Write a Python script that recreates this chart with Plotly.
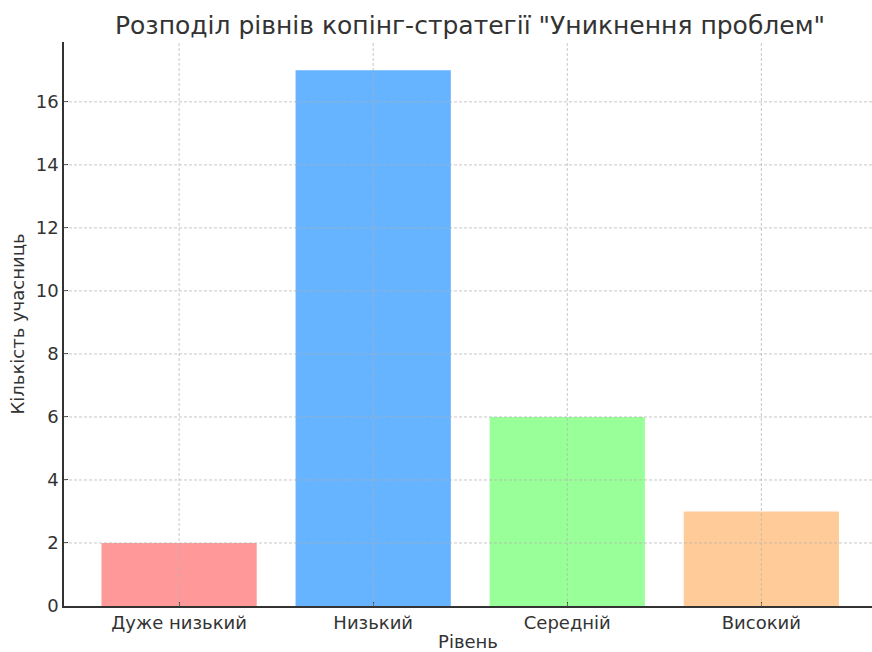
import plotly.graph_objects as go

categories = ["Дуже низький", "Низький", "Середній", "Високий"]
counts = [2, 17, 6, 3]
colors = ["#ff9999", "#66b3ff", "#99ff99", "#ffcc99"]
y_ticks = [0, 2, 4, 6, 8, 10, 12, 14, 16]

fig = go.Figure(go.Bar(x=list(range(len(categories))), y=counts, marker_color=colors,
                       marker_line_width=0, width=0.8))

grid_style = dict(color="rgba(176,176,176,0.7)", width=1, dash="3px,2px")
shapes = []
for i in range(len(categories)):
    shapes.append(dict(type="line", xref="x", yref="paper", x0=i, x1=i, y0=0, y1=1,
                       line=grid_style, layer="above"))
for t in y_ticks[1:]:
    shapes.append(dict(type="line", xref="paper", yref="y", x0=0, x1=1, y0=t, y1=t,
                       line=grid_style, layer="above"))

font = "DejaVu Sans, sans-serif"
fig.update_layout(
    width=872, height=652,
    margin=dict(l=64, r=0, t=42, b=46, autoexpand=False),
    plot_bgcolor="white", paper_bgcolor="white",
    font=dict(family=font, color="#333333", size=19),
    title=dict(text='Розподіл рівнів копінг-стратегії "Уникнення проблем"',
               x=(64 + 876) / 2 / 872, xanchor="center", y=0.962, yanchor="middle",
               font=dict(size=25, color="#333333")),
    showlegend=False, shapes=shapes,
)
fig.update_xaxes(
    tickmode="array", tickvals=list(range(len(categories))), ticktext=categories,
    range=[-0.593, 3.57], showline=True, linecolor="#333333", linewidth=1.5,
    showgrid=False, automargin=False,
    ticks="inside", ticklen=4, tickcolor="#333333", tickfont=dict(size=18),
    title=dict(text="Рівень", standoff=5, font=dict(size=18)), zeroline=False,
)
fig.update_yaxes(
    range=[0, 17.9], tickmode="array", tickvals=y_ticks, showline=True,
    linecolor="#333333", linewidth=1.5, showgrid=False, automargin=False,
    ticks="inside", ticklen=4, tickcolor="#333333", zeroline=False, tickfont=dict(size=18),
    title=dict(text="Кількість учасниць", standoff=6, font=dict(size=18)),
)
fig.write_html("out.html", config={"displayModeBar": False},
               post_script="document.body.style.margin='0';")
